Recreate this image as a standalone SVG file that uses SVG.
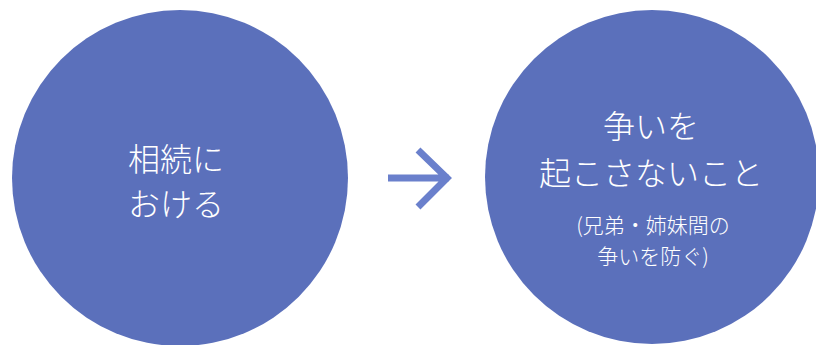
<svg xmlns="http://www.w3.org/2000/svg" width="816" height="345" viewBox="0 0 816 345">
<style>
.c{fill:#5b70bb}
.t{fill:#ffffff;font-family:"Noto Sans CJK JP","Noto Sans",sans-serif;text-anchor:middle;font-weight:300}
.big{font-size:32px}
.small{font-size:21px}
</style>
<rect width="816" height="345" fill="#ffffff"/>
<g id="node-left">
<circle class="c" cx="180" cy="178" r="168"/>
<text class="t big" x="176" y="171" font-size="33">相続に</text>
<text class="t big" x="176" y="216" font-size="33">おける</text>
</g>
<g id="connectors">
<path d="M388 178 H449 M418 150 L447 178 L418 207" fill="none" stroke="#6a80cc" stroke-width="7"/>
</g>
<g id="node-right">
<circle class="c" cx="652" cy="177" r="167"/>
<text class="t big" x="651" y="138">争いを</text>
<text class="t big" x="651" y="185">起こさないこと</text>
<text class="t small" x="653" y="233">(兄弟・姉妹間の</text>
<text class="t small" x="653" y="264">争いを防ぐ)</text>
</g>
</svg>
